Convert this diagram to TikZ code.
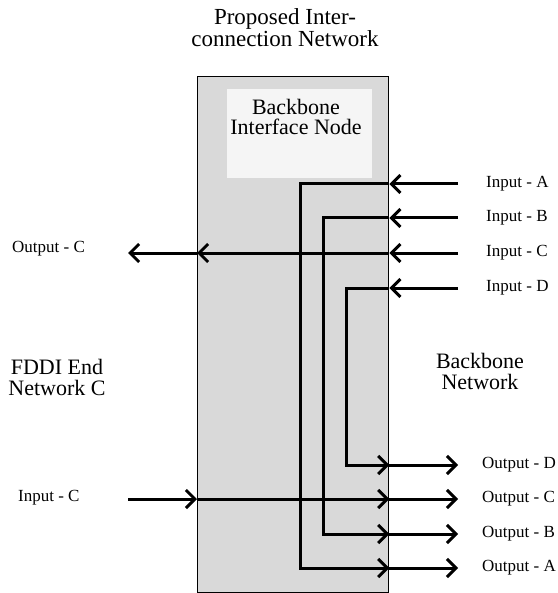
\documentclass[tikz,border=0pt]{standalone}
\usepackage{fontspec}
\setmainfont{Liberation Serif}
\usetikzlibrary{arrows.meta}

\tikzset{
  wire/.style={line width=3pt},
  sig/.style={wire, -{Straight Barb[length=9pt,width=18pt]}},
  big/.style={align=center, font=\fontsize{22}{21}\selectfont, inner sep=0pt},
  port/.style={font=\fontsize{17}{17}\selectfont, inner sep=0pt, anchor=west},
}

\begin{document}
\begin{tikzpicture}[x=1pt, y=-1pt]
\useasboundingbox (0,0) rectangle (557,593);

% interface node box and its label area
\node[draw, line width=1.3pt, fill=black!15, inner sep=0pt, anchor=north west,
      minimum width=191pt, minimum height=516pt] (bin) at (197,76) {};
\fill[black!4] (227,89) rectangle (372,178);

\node[big, font=\fontsize{23}{22}\selectfont] (title) at (285,28) {Proposed Inter-\\connection Network};
\node[big, font=\fontsize{22}{20}\selectfont] (binlbl) at (296,117) {Backbone\\Interface Node};
\node[big] (fddi) at (57,377) {FDDI End\\Network C};
\node[big] (bbn) at (480,371) {Backbone\\Network};

% ports on the backbone side
\foreach \n/\yi/\yo in {A/184/568, B/218/534, C/253/499, D/288/465} {
  \node[port] (in\n) at (486,\yi) {Input - \n};
  \node[port] (out\n) at (482,\yo) {Output - \n};
  \coordinate (t\n) at (458,\yi);
  \coordinate (r\n) at (bin.east |- t\n);
  \coordinate (o\n) at (458,\yo);
  \coordinate (q\n) at (bin.east |- o\n);
}

% ports on the FDDI side
\node[port] (fout) at (12,249) {Output - C};
\node[port] (fin) at (18,498) {Input - C};
\coordinate (fo) at (128,253);
\coordinate (fi) at (128,499);
\coordinate (lo) at (bin.west |- fo);
\coordinate (li) at (bin.west |- fi);

% backbone inputs routed back to the backbone outputs
\foreach \n/\xv in {A/300, B/323, D/346} {
  \draw[sig] (t\n) -- (r\n);
  \draw[sig] (r\n) -| (\xv,0 |- q\n) -- (q\n);
  \draw[sig] (q\n) -- (o\n);
}

% input C goes out to the FDDI ring
\draw[sig] (tC) -- (rC);
\draw[sig] (rC) -- (lo);
\draw[sig] (lo) -- (fo);

% FDDI traffic onto the backbone
\draw[sig] (fi) -- (li);
\draw[sig] (li) -- (qC);
\draw[sig] (qC) -- (oC);
\end{tikzpicture}
\end{document}
